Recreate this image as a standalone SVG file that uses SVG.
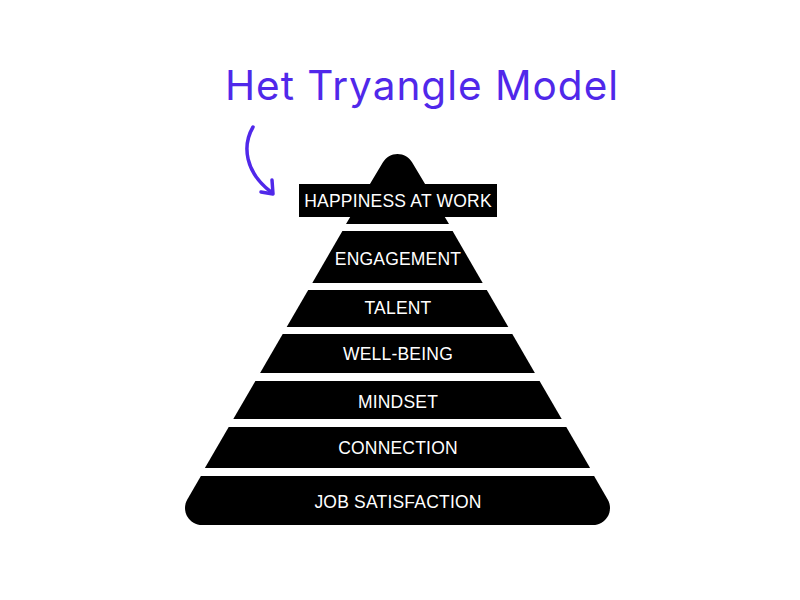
<svg xmlns="http://www.w3.org/2000/svg" width="800" height="600" viewBox="0 0 800 600">
  <defs>
    <style>
      .band { fill: #000000; }
      .lbl { fill: #ffffff; font-family: "Liberation Sans", Arial, sans-serif; font-size: 17.5px; letter-spacing: 0.2px; text-anchor: middle; }
      .title { fill: #5028ea; font-family: Inter, "Open Sans", sans-serif; font-size: 40.5px; letter-spacing: 1px; }
      .arrow { fill: none; stroke: #5028ea; stroke-width: 3.5; stroke-linecap: round; stroke-linejoin: round; }
    </style>
  </defs>
  <rect width="800" height="600" fill="#ffffff"/>

  <g id="title">
    <text class="title" x="225" y="100">Het Tryangle Model</text>
  </g>

  <g id="connectors">
    <path class="arrow" d="M253,127 C242,146 245,172 271,192"/>
    <polyline class="arrow" points="261,192 273,194 272,180"/>
  </g>

  <g id="happiness">
    <path class="band" d="M346,224 L382.8,162.5 A17,17 0 0 1 412.2,162.5 L449,224 Z"/>
    <rect class="band" x="299" y="184" width="198" height="33"/>
    <text class="lbl" x="398" y="207">HAPPINESS AT WORK</text>
  </g>

  <g id="engagement">
    <path class="band" d="M342.4,231 L452.6,231 L482.7,283 L312.3,283 Z"/>
    <text class="lbl" x="398" y="265">ENGAGEMENT</text>
  </g>

  <g id="talent">
    <path class="band" d="M308.2,290 L486.8,290 L508.3,327 L286.7,327 Z"/>
    <text class="lbl" x="398" y="314">TALENT</text>
  </g>

  <g id="wellbeing">
    <path class="band" d="M282.7,334 L512.3,334 L534.9,373 L260.1,373 Z"/>
    <text class="lbl" x="398" y="360">WELL-BEING</text>
  </g>

  <g id="mindset">
    <path class="band" d="M255.4,381 L539.6,381 L561.7,419 L233.3,419 Z"/>
    <text class="lbl" x="398" y="408">MINDSET</text>
  </g>

  <g id="connection">
    <path class="band" d="M228.7,427 L566.3,427 L590.1,468 L204.9,468 Z"/>
    <text class="lbl" x="398" y="454">CONNECTION</text>
  </g>

  <g id="jobsatisfaction">
    <path class="band" d="M200.9,476 L594.1,476 L607.7,499.5 A17,17 0 0 1 593,525 L202,525 A17,17 0 0 1 187.3,499.5 Z"/>
    <text class="lbl" x="398" y="508">JOB SATISFACTION</text>
  </g>
</svg>
